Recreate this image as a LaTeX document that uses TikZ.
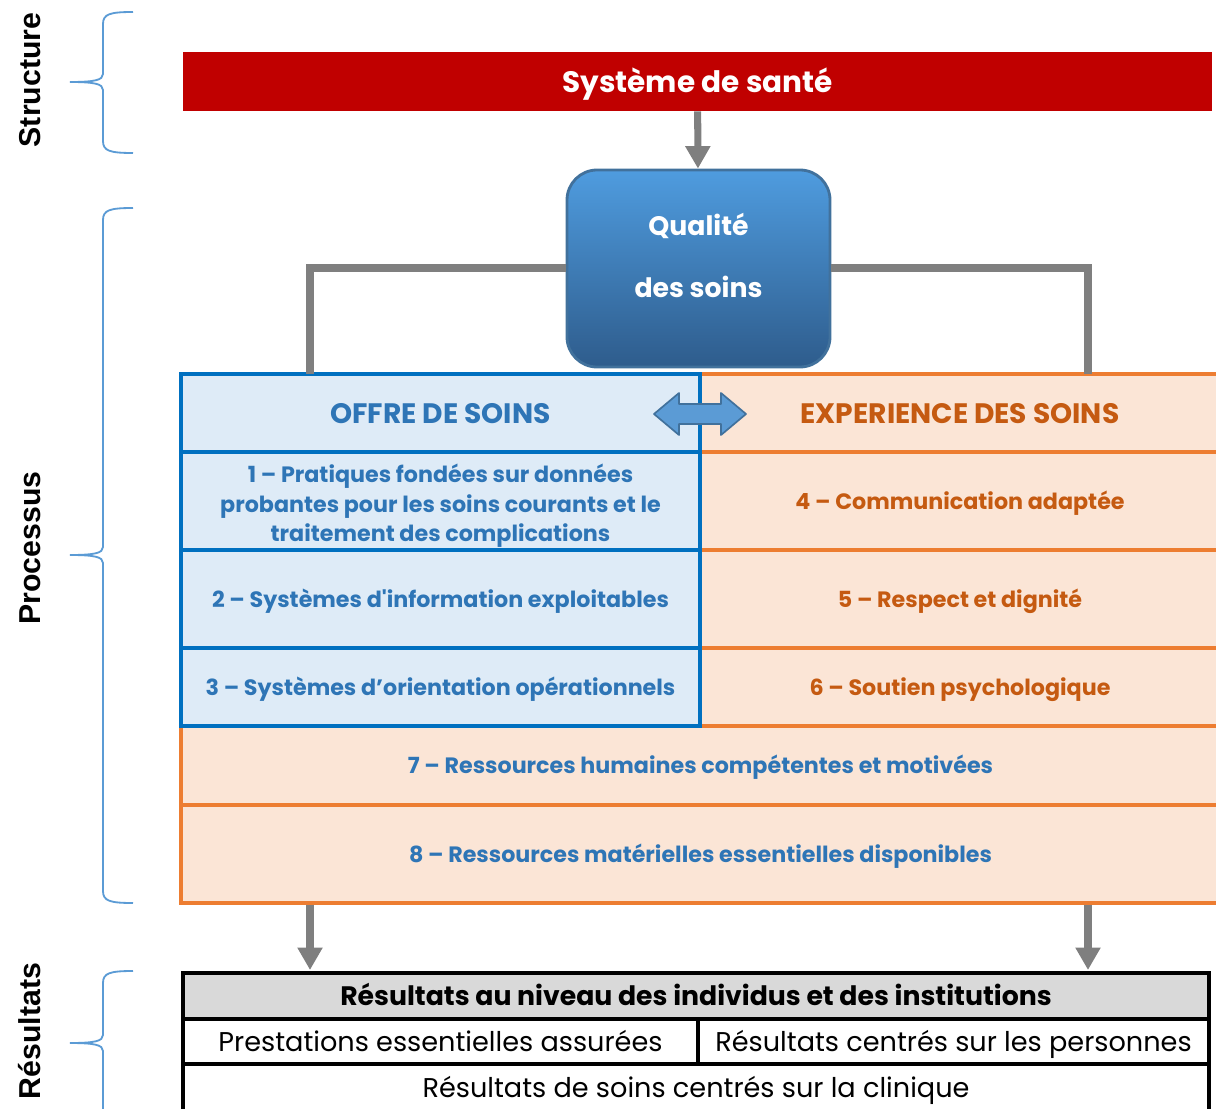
\documentclass[tikz,border=0pt]{standalone}
\usepackage{fontspec}
\setmainfont{Poppins}
\newfontfamily\labelfont{Liberation Sans}
\usetikzlibrary{arrows.meta}

\definecolor{santered}{HTML}{C00000}
\definecolor{offreline}{HTML}{0070C0}
\definecolor{offrefill}{HTML}{DEEBF7}
\definecolor{offretext}{HTML}{2E75B6}
\definecolor{experline}{HTML}{ED7D31}
\definecolor{experfill}{HTML}{FBE5D6}
\definecolor{expertext}{HTML}{C55A11}
\definecolor{linkgray}{HTML}{7F7F7F}
\definecolor{bracecol}{HTML}{5B9BD5}
\definecolor{qualtop}{HTML}{4F9CDF}
\definecolor{qualbot}{HTML}{2E5C8C}
\definecolor{qualline}{HTML}{41719C}
\definecolor{headgray}{HTML}{D9D9D9}

\tikzset{
  cell/.style 2 args={rectangle, minimum width=#1*0.025cm, minimum height=#2*0.025cm,
    inner sep=0pt, align=center},
  oneline/.style={text height=#1, text depth=0pt},
  offre/.style={draw=offreline, fill=offrefill, line width=2.2pt, text=offretext,
    font=\bfseries\fontsize{15.8}{21}\selectfont},
  exper/.style={draw=experline, fill=experfill, line width=2.2pt, text=expertext,
    font=\bfseries\fontsize{15.8}{21}\selectfont},
  headtext/.style={font=\bfseries\fontsize{20}{24}\selectfont, oneline=14.4pt},
  outcome/.style={draw=black, line width=2.8pt, oneline=13.9pt, font=\fontsize{19.3}{22}\selectfont},
  link/.style={draw=linkgray, line width=5pt},
  flow/.style={link, -{Triangle[width=17pt, length=16pt]}},
  brace/.style={draw=bracecol, line width=1.3pt},
  side/.style={font=\labelfont\bfseries\fontsize{21.5}{24}\selectfont, rotate=90}
}

\begin{document}
\begin{tikzpicture}[x=0.025cm, y=-0.025cm]
  \useasboundingbox (0,0) rectangle (1216,1109);

  % side labels and braces
  \node[side] (lstruct) at (30,80) {Structure};
  \node[side] (lproc) at (30,548) {Processus};
  \node[side] (lres) at (30,1031) {Résultats};
  \draw[brace] (133,12) .. controls (110,12) and (103,14) .. (103,24) -- (103,74)
    .. controls (103,80) and (95,82) .. (70,82)
    .. controls (95,82) and (103,84) .. (103,90) -- (103,141)
    .. controls (103,151) and (110,153) .. (133,153);
  \draw[brace] (133,208) .. controls (110,208) and (103,210) .. (103,220) -- (103,547)
    .. controls (103,553) and (95,555) .. (70,555)
    .. controls (95,555) and (103,557) .. (103,563) -- (103,891)
    .. controls (103,901) and (110,903) .. (133,903);
  \draw[brace] (133,971) .. controls (110,971) and (103,973) .. (103,983) -- (103,1035)
    .. controls (103,1041) and (95,1043) .. (70,1043)
    .. controls (95,1043) and (103,1045) .. (103,1051) -- (103,1120);

  % structure
  \node[cell={1029}{59}, fill=santered, text=white, oneline=15.3pt,
    font=\bfseries\fontsize{21}{24}\selectfont] (sys) at (697.5,81.5) {Système de santé};
  \node[cell={263}{197}, rounded corners=0.75cm, top color=qualtop, bottom color=qualbot,
    draw=qualline, line width=2pt, text=white, text depth=18.5pt,
    font=\bfseries\fontsize{19}{44}\selectfont] (qual) at (698.5,268.5) {Qualité\\des soins};
  \draw[flow] (sys) -- (qual);

  % process table
  \node[cell={1039}{79}, exper, oneline=11.6pt, text=offretext] (res7) at (700.5,765.5)
    {7 – Ressources humaines compétentes et motivées};
  \node[cell={1039}{98}, exper, oneline=11.6pt, text=offretext] (res8) at (700.5,854)
    {8 – Ressources matérielles essentielles disponibles};
  \node[cell={520}{78}, exper, headtext] (exphead) at (960,413) {EXPERIENCE DES SOINS};
  \node[cell={520}{98}, exper, oneline=11.6pt] (exp1) at (960,501) {4 – Communication adaptée};
  \node[cell={520}{98}, exper, oneline=11.6pt] (exp2) at (960,599) {5 – Respect et dignité};
  \node[cell={520}{78}, exper, oneline=11.6pt] (exp3) at (960,687) {6 – Soutien psychologique};
  \node[cell={519}{78}, offre, headtext] (offhead) at (440.5,413) {OFFRE DE SOINS};
  \node[cell={519}{98}, offre, text height=62.4pt] (off1) at (440.5,501)
    {1 – Pratiques fondées sur données\\probantes pour les soins courants et le\\traitement des complications};
  \node[cell={519}{98}, offre, oneline=11.6pt] (off2) at (440.5,599) {2 – Systèmes d\textquotesingle information exploitables};
  \node[cell={519}{78}, offre, oneline=11.6pt] (off3) at (440.5,687) {3 – Systèmes d’orientation opérationnels};

  % double arrow between the two columns
  \draw[draw=qualline, fill=bracecol, line width=1.2pt, line join=round]
    (654,414) -- (679,393) -- (679,404) -- (721,404) -- (721,393) -- (746,414)
    -- (721,435) -- (721,424) -- (679,424) -- (679,435) -- cycle;

  % links from quality to both sides
  \coordinate (offtop) at (310,374);
  \coordinate (exptop) at (1088,374);
  \draw[link] (qual.west |- 0,268) -| (offtop);
  \draw[link] (qual.east |- 0,268) -| (exptop);

  % outcomes
  \node[cell={1026}{46}, outcome, fill=headgray, oneline=13.7pt,
    font=\bfseries\fontsize{19}{22}\selectfont]
    (outhead) at (696,996) {Résultats au niveau des individus et des institutions};
  \node[cell={515}{45}, outcome] (outa) at (440.5,1041.5) {Prestations essentielles assurées};
  \node[cell={511}{45}, outcome] (outb) at (953.5,1041.5) {Résultats centrés sur les personnes};
  \node[cell={1026}{48}, outcome] (outc) at (696,1088) {Résultats de soins centrés sur la clinique};

  \coordinate (outl) at (310,970);
  \coordinate (outr) at (1088,970);
  \draw[flow] (res8.south -| outl) -- (outl);
  \draw[flow] (res8.south -| outr) -- (outr);
\end{tikzpicture}
\end{document}
